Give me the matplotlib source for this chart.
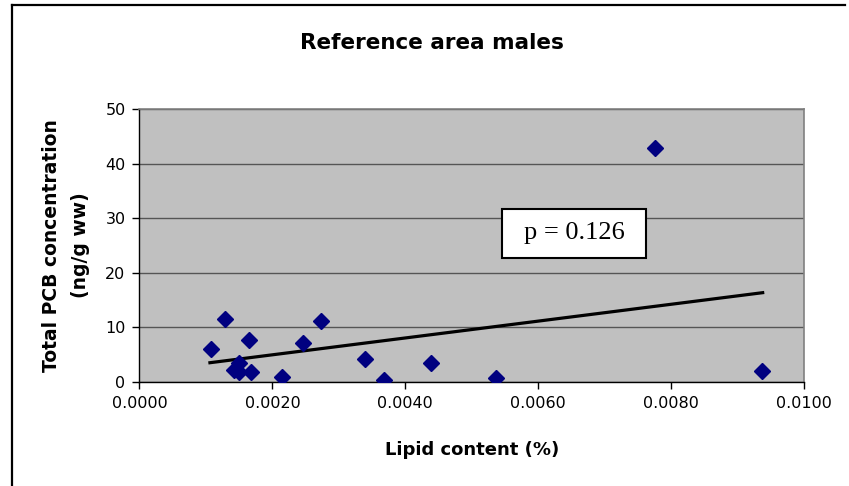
import matplotlib
matplotlib.use("Agg")
import matplotlib.pyplot as plt
from matplotlib.lines import Line2D
from matplotlib.patches import Rectangle

# data
lipid = [0.001072, 0.001287, 0.001652, 0.001505, 0.001415, 0.001505, 0.001678,
         0.002144, 0.002460, 0.002727, 0.003389, 0.003680, 0.004387, 0.005360,
         0.007758, 0.009363]
pcb = [6.04, 11.48, 7.69, 3.42, 2.20, 1.89, 1.92,
       0.92, 7.09, 11.17, 4.16, 0.31, 3.53, 0.68,
       42.86, 1.96]

# Excel linear trendline end points
trend_x = [0.00106, 0.009378]
trend_y = [3.53, 16.36]

x_ticks = [0.0, 0.002, 0.004, 0.006, 0.008, 0.010]
y_ticks = [0, 10, 20, 30, 40, 50]

plt.rcParams['font.family'] = ['DejaVu Sans']

fig = plt.figure(figsize=(8.49, 4.86), dpi=100)
ax = fig.add_axes([0.1643, 0.214, 0.7827, 0.5617])

ax.set_facecolor('#c0c0c0')
ax.set_xlim(0, 0.010)
ax.set_ylim(0, 50)
ax.set_xticks(x_ticks)
ax.set_xticklabels([f"{v:.4f}" for v in x_ticks])
ax.set_yticks(y_ticks)
ax.tick_params(direction='out', length=5, width=1, labelsize=11.5, pad=5)
ax.grid(axis='y', color='#555555', linewidth=1)
ax.set_axisbelow(True)

for side in ['top', 'right']:
    ax.spines[side].set_color('#808080')
    ax.spines[side].set_linewidth(1.2)
for side in ['left', 'bottom']:
    ax.spines[side].set_color('black')
    ax.spines[side].set_linewidth(1)

ax.plot(trend_x, trend_y, color='black', linewidth=2.3, zorder=3)
ax.plot(lipid, pcb, linestyle='none', marker='D', markersize=8,
        color='#000080', zorder=4)

# p-value text box
ax.add_patch(Rectangle((0.5455, 0.4542), 0.2167, 0.1795, transform=ax.transAxes,
                       facecolor='white', edgecolor='black', linewidth=1.5,
                       zorder=5))
ax.text(0.6538, 0.544, "p = 0.126", family=['Liberation Serif', 'DejaVu Serif'],
        fontsize=19, ha='center', va='center', transform=ax.transAxes, zorder=6)

ax.set_xlabel("Lipid content (%)", fontsize=13, fontweight='bold', labelpad=22)
ax.set_ylabel("Total PCB concentration\n(ng/g ww)", fontsize=13.5,
              fontweight='bold', labelpad=11, linespacing=1.65)
fig.text(0.509, 0.9115, "Reference area males", fontsize=15.5, fontweight='bold',
         ha='center', va='center')

# outer chart border (top and left only visible)
fig.add_artist(Line2D([0.0141, 0.995], [0.9887, 0.9887], color='black',
                      linewidth=1.6, transform=fig.transFigure))
fig.add_artist(Line2D([0.0141, 0.0141], [0.0, 0.9887], color='black',
                      linewidth=1.6, transform=fig.transFigure))

plt.savefig("out.png", dpi=100)
